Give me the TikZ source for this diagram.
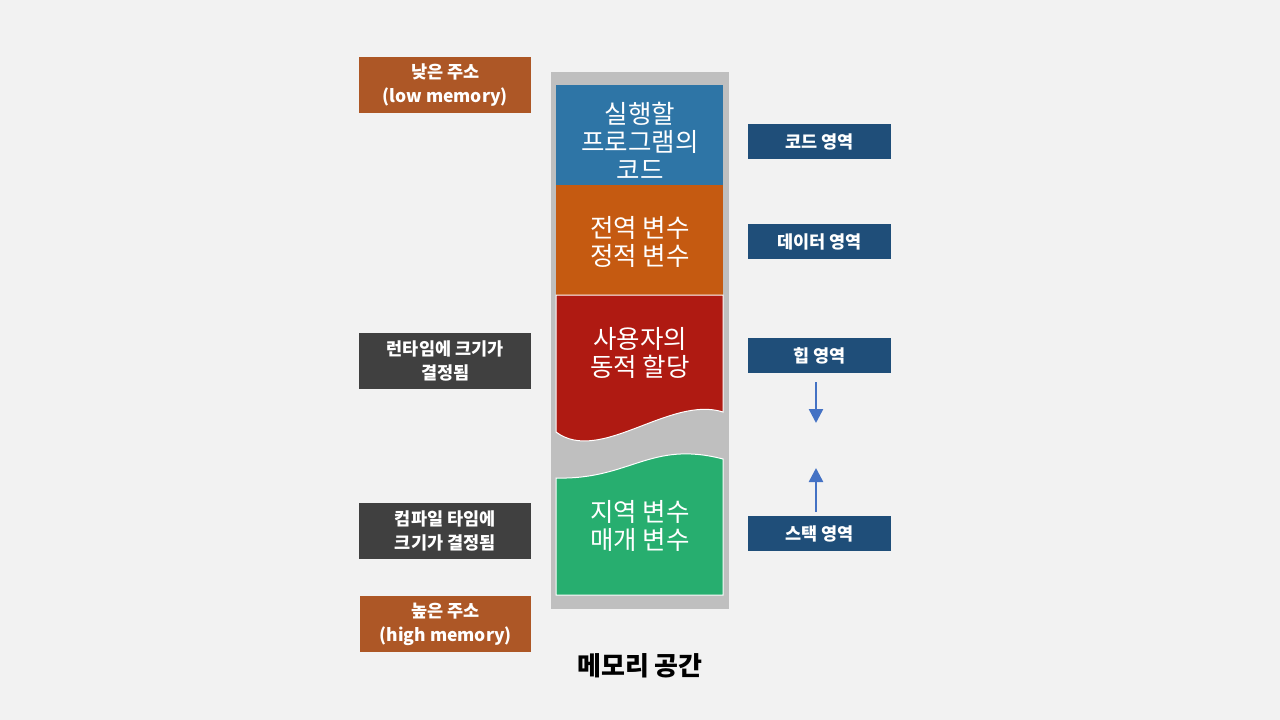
\documentclass[tikz,border=0pt]{standalone}
\usepackage{fontspec}
\setmainfont{Noto Sans CJK KR}
\newfontfamily\kr{Noto Sans CJK KR}
\usetikzlibrary{arrows.meta}
\definecolor{bg}{HTML}{F2F2F2}
\definecolor{frame}{HTML}{BFBFBF}
\definecolor{codeblue}{HTML}{2E75A6}
\definecolor{dataorange}{HTML}{C55A11}
\definecolor{heapred}{HTML}{AF1A12}
\definecolor{stackgreen}{HTML}{27AE6F}
\definecolor{addr}{HTML}{AD5726}
\definecolor{darkgray}{HTML}{404040}
\definecolor{navy}{HTML}{1F4E79}
\definecolor{arrowblue}{HTML}{4472C4}
\tikzset{
  lbl/.style={anchor=north west, inner sep=0pt, text=white, font=\kr\bfseries\fontsize{17.5}{24}\selectfont, align=center},
  blocktxt/.style={text=white, font=\kr\fontsize{25.5}{28}\selectfont, align=center, inner sep=0pt},
  growarrow/.style={draw=arrowblue, line width=2.5pt, -{Triangle[width=14pt,length=14pt]}}
}
\begin{document}
\begin{tikzpicture}[x=1pt,y=-1pt]
\useasboundingbox[fill=bg] (0,0) rectangle (1280,720);
% memory frame
\fill[frame] (551,72) rectangle (729,609);
% code block
\fill[codeblue] (556,85) rectangle (723,185);
\node[blocktxt] (code) at (640,141) {실행할\\프로그램의\\코드};
% data block
\fill[dataorange] (556,185) rectangle (723,295);
\node[blocktxt] (data) at (640,242) {전역 변수\\정적 변수};
% heap block
\filldraw[fill=heapred, draw=white, line width=1pt] (556,295) -- (723,295) -- (723,412)
  .. controls (670,395) and (600,465) .. (556,432) -- cycle;
\node[blocktxt] (heap) at (640,353) {사용자의\\동적 할당};
% stack block
\filldraw[fill=stackgreen, draw=white, line width=1pt] (556,478)
  .. controls (630,480) and (650,440) .. (723,459) -- (723,595) -- (556,595) -- cycle;
\node[blocktxt] (stack) at (640,526) {지역 변수\\매개 변수};
% left labels
\node[lbl, fill=addr, minimum width=172pt, minimum height=56pt] (low) at (359,57) {낮은 주소\\(low memory)};
\node[lbl, fill=darkgray, minimum width=172pt, minimum height=56pt] (runtime) at (359,333) {런타임에 크기가\\결정됨};
\node[lbl, fill=darkgray, minimum width=172pt, minimum height=56pt] (compile) at (359,503) {컴파일 타임에\\크기가 결정됨};
\node[lbl, fill=addr, minimum width=171pt, minimum height=56pt] (high) at (360,596) {높은 주소\\(high memory)};
% right labels
\node[lbl, fill=navy, minimum width=143pt, minimum height=35pt] (codearea) at (748,124) {코드 영역};
\node[lbl, fill=navy, minimum width=143pt, minimum height=35pt] (dataarea) at (748,224) {데이터 영역};
\node[lbl, fill=navy, minimum width=143pt, minimum height=35pt] (heaparea) at (748,338) {힙 영역};
\node[lbl, fill=navy, minimum width=143pt, minimum height=35pt] (stackarea) at (748,516) {스택 영역};
% growth arrows
\coordinate (heapgrow) at (816,423);
\coordinate (stackgrow) at (816,468);
\draw[growarrow] ([yshift=-9pt]heapgrow |- heaparea.south) -- (heapgrow);
\draw[growarrow] ([yshift=4pt]stackgrow |- stackarea.north) -- (stackgrow);
% caption
\node[font=\kr\bfseries\fontsize{26}{30}\selectfont, text=black, inner sep=0pt] (caption) at (640,666) {메모리 공간};
\end{tikzpicture}
\end{document}
